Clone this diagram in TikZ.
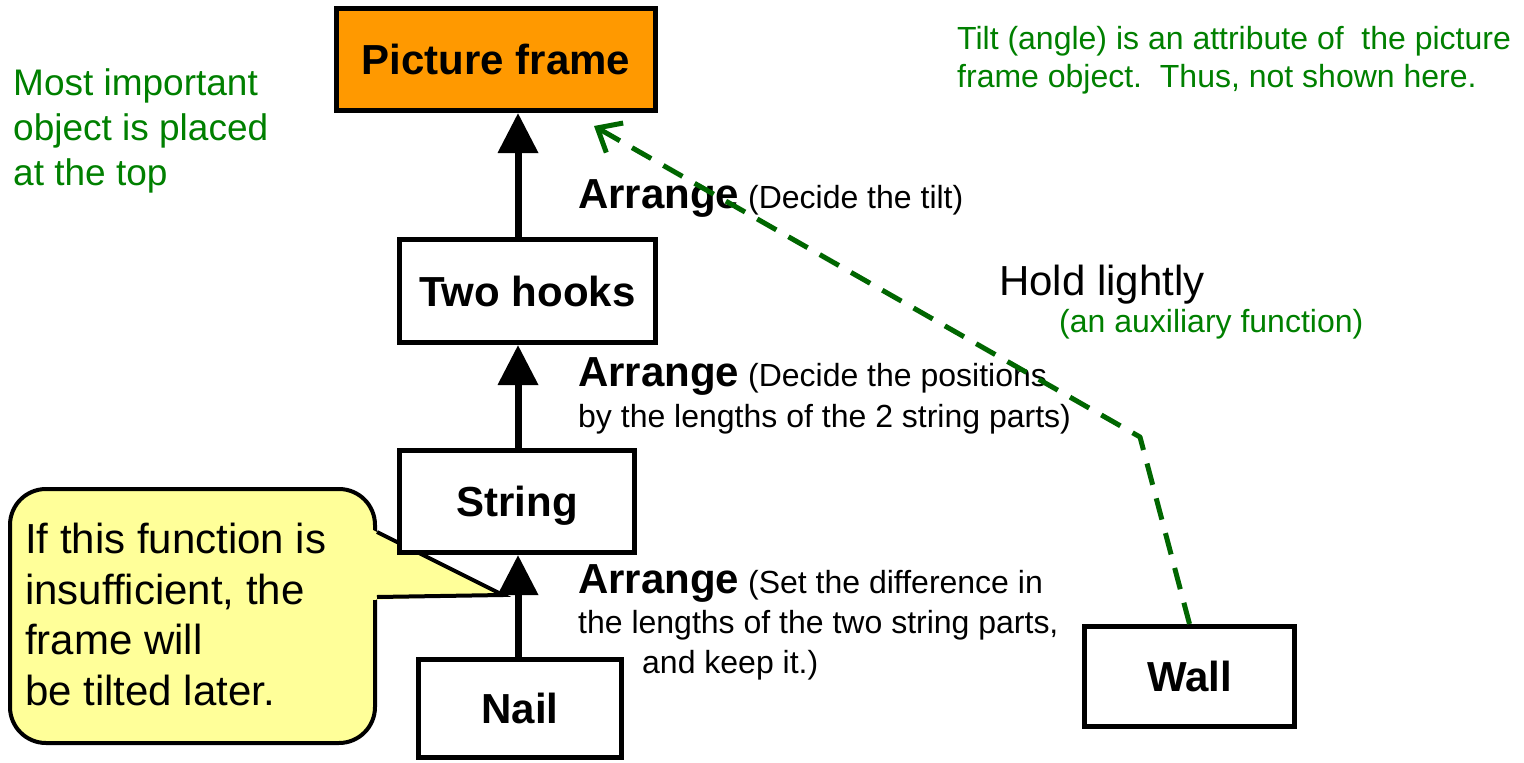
\documentclass[tikz,border=0pt]{standalone}
\usepackage{fontspec}
\setmainfont{Liberation Sans}
\usetikzlibrary{arrows.meta}
\definecolor{pforange}{HTML}{FF9900}
\definecolor{txtgreen}{HTML}{008000}
\definecolor{linegreen}{HTML}{006600}
\definecolor{callyellow}{HTML}{FFFF99}
\newcommand{\myfs}[2]{\fontsize{#1}{#2}\selectfont}
\begin{document}
\begin{tikzpicture}[x=1pt,y=-1pt,
  objbox/.style={draw=black, fill=white, line width=5pt, inner sep=0pt,
    text height=30.5pt, text depth=0pt, font=\bfseries\myfs{42}{50}},
  uparrow/.style={draw=black, line width=7pt, -{Triangle[width=39pt,length=40pt]}},
  holdline/.style={draw=linegreen, line width=5pt, dash pattern=on 22pt off 14pt,
    line join=round, -{Straight Barb[length=20pt,width=34pt,line width=5pt]}},
  callbox/.style={draw=black, fill=callyellow, line width=4pt, rounded corners=36pt, inner sep=0pt},
  lbl/.style={anchor=base west, inner sep=0pt, align=left, text=black},
  note/.style={anchor=base west, inner sep=0pt, align=left, text=txtgreen}
]
\fill[white] (0,0) rectangle (1524,763);
\useasboundingbox (0,0) rectangle (1524,763);

% callout
\node[callbox, minimum width=365pt, minimum height=254pt] (cbox) at (192.5,616) {};
\coordinate (ctop) at (377,532);
\coordinate (cbot) at (377,597);
\coordinate (ctip) at (503,595);
\fill[callyellow] (369,528) -- (ctip) -- (369,600) -- cycle;
\draw[line width=4pt, line join=miter] (ctop) -- (ctip) -- (cbot);
\node[lbl, font=\myfs{42}{50.5}] (ctext) at (25,705)
  {If this function is\\insufficient, the\\frame will\\be tilted later.};

% boxes
\node[objbox, fill=pforange, minimum width=319pt, minimum height=102pt] (pf) at (496,59.5) {Picture frame};
\node[objbox, minimum width=256pt, minimum height=103pt] (hooks) at (527.5,291) {Two hooks};
\node[objbox, minimum width=235pt, minimum height=102pt] (string) at (517,501.5) {String};
\node[objbox, minimum width=203pt, minimum height=98pt] (nail) at (520,708.5) {Nail};
\node[objbox, minimum width=210pt, minimum height=100pt] (wall) at (1189.5,676.5) {Wall};

% arrows
\coordinate (ax) at (518,0);
\draw[uparrow] (ax |- hooks.north) -- (ax |- pf.south);
\draw[uparrow] (ax |- string.north) -- (ax |- hooks.south);
\draw[uparrow] (ax |- nail.north) -- (ax |- string.south);

% labels
\node[lbl, font=\myfs{32}{41}] (arr1) at (578,208)
  {{\bfseries\myfs{42}{41}Arrange} (Decide the tilt)};
\node[lbl, font=\myfs{32}{41}] (arr2) at (578,427)
  {{\bfseries\myfs{42}{41}Arrange} (Decide the positions\\by the lengths of the 2 string parts)};
\node[lbl, font=\myfs{32}{40}] (arr3) at (578,673)
  {{\bfseries\myfs{42}{40}Arrange} (Set the difference in\\the lengths of the two string parts,\\\hspace*{64pt}and keep it.)};

\node[note, font=\myfs{37}{45}] (imp) at (13,185)
  {Most important\\object is placed\\at the top};
\node[note, font=\myfs{32}{38}] (tilt) at (957,87)
  {Tilt (angle) is an attribute of\ \ the picture\\frame object.\ \ Thus, not shown here.};
\node[lbl, font=\myfs{42}{50}] (hold) at (999,295) {Hold lightly};
\node[note, font=\myfs{32}{38}] (aux) at (1059,332) {(an auxiliary function)};

% dashed hold connector
\coordinate (bend) at (1140,437);
\coordinate (pftip) at (594,126);
\draw[holdline] (wall.north) -- (bend) -- (pftip);
\end{tikzpicture}
\end{document}
